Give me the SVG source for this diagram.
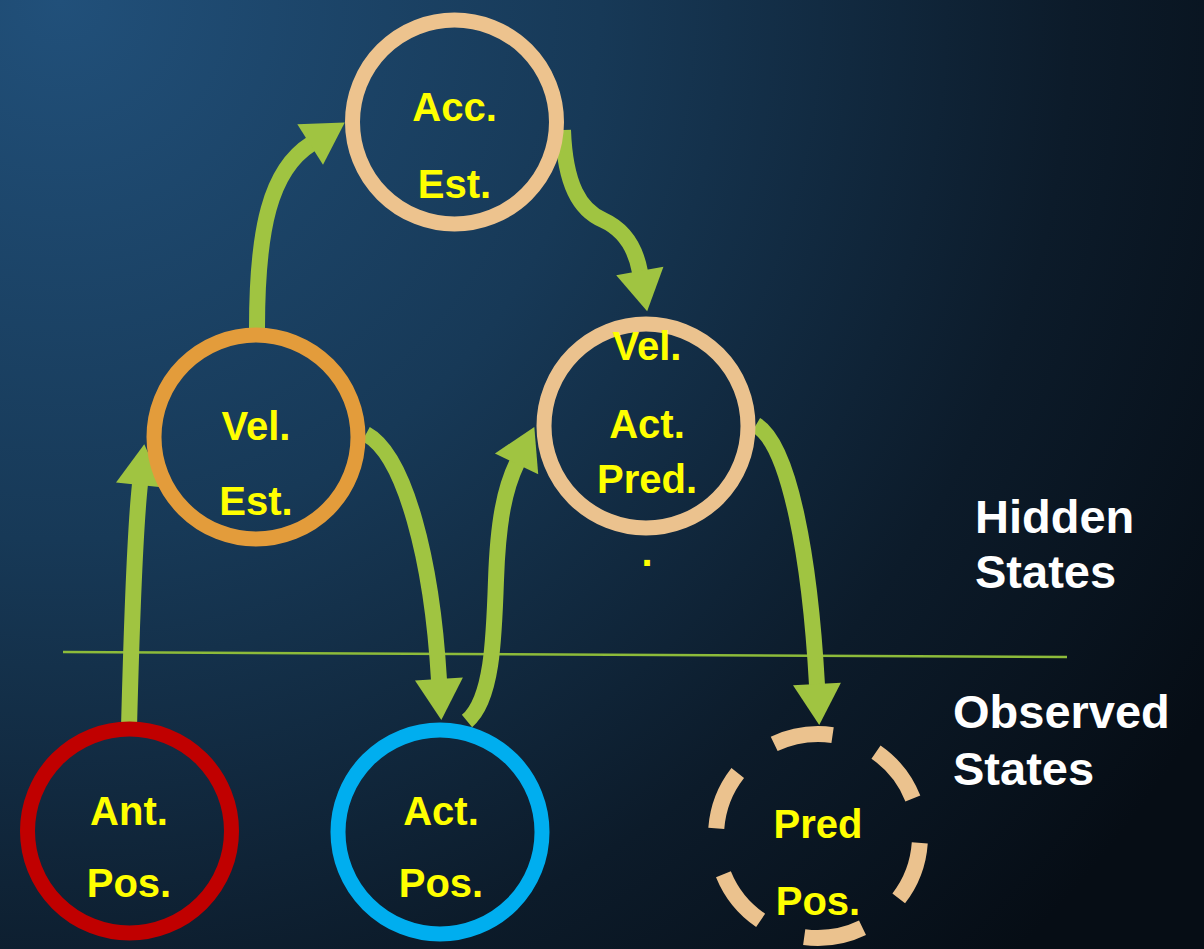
<svg xmlns="http://www.w3.org/2000/svg" width="1204" height="949" viewBox="0 0 1204 949">
  <defs>
    <radialGradient id="bg" gradientUnits="userSpaceOnUse" cx="60" cy="0" r="1350">
      <stop offset="0" stop-color="#21507A"/>
      <stop offset="0.4" stop-color="#173957"/>
      <stop offset="0.75" stop-color="#0C1B2A"/>
      <stop offset="1" stop-color="#060D15"/>
    </radialGradient>
    <marker id="head" markerUnits="userSpaceOnUse" markerWidth="50" markerHeight="50" viewBox="0 -25 50 50" refX="1" refY="0" orient="auto" overflow="visible">
      <path d="M0,-24 L41,0 L0,24 Z" fill="#A0C441"/>
    </marker>
    <style>
      .node { fill: none; stroke-width: 15; }
      .lbl { font-family: "Liberation Sans", Arial, sans-serif; font-weight: bold; font-size: 40px; fill: #FFFF00; text-anchor: middle; }
      .side { font-family: "Liberation Sans", Arial, sans-serif; font-weight: bold; font-size: 47px; fill: #FFFFFF; }
      .arrow { fill: none; stroke: #A0C441; stroke-width: 16; marker-end: url(#head); }
    </style>
  </defs>
  <rect x="0" y="0" width="1204" height="949" fill="url(#bg)"/>

  <line x1="63" y1="652" x2="1067" y2="657" stroke="#8DBB3A" stroke-width="2.5"/>

  <g id="connectors">
    <path class="arrow" d="M129,728 C131,650 134,540 140,484"/>
    <path class="arrow" d="M257,328 C257,230 270,170 311,144"/>
    <path class="arrow" d="M563,130 C565,185 580,210 603,220 C625,230 636,250 640,272"/>
    <path class="arrow" d="M366,434 C405,455 432,560 439,680"/>
    <path class="arrow" d="M467,721 C492,700 494,640 496,580 C498,520 505,488 517,463"/>
    <path class="arrow" d="M756,425 C790,445 810,560 817,685"/>
  </g>

  <g id="acc-est">
    <circle class="node" cx="454.5" cy="122" r="102" stroke="#EDC38E"/>
    <text class="lbl" x="454.5" y="121">Acc.</text>
    <text class="lbl" x="454.5" y="198">Est.</text>
  </g>

  <g id="vel-est">
    <circle class="node" cx="256" cy="437" r="102" stroke="#E39C3B"/>
    <text class="lbl" x="256" y="440">Vel.</text>
    <text class="lbl" x="256" y="515">Est.</text>
  </g>

  <g id="vel-act-pred">
    <circle class="node" cx="646" cy="426" r="102" stroke="#EBC28E"/>
    <text class="lbl" x="647" y="360">Vel.</text>
    <text class="lbl" x="647" y="438">Act.</text>
    <text class="lbl" x="647" y="493">Pred.</text>
    <text class="lbl" x="647" y="566">.</text>
  </g>

  <g id="ant-pos">
    <circle class="node" cx="129.5" cy="831" r="102" stroke="#C00000"/>
    <text class="lbl" x="129" y="825">Ant.</text>
    <text class="lbl" x="129" y="897">Pos.</text>
  </g>

  <g id="act-pos">
    <circle class="node" cx="440" cy="832" r="102" stroke="#00AEEF"/>
    <text class="lbl" x="441" y="825">Act.</text>
    <text class="lbl" x="441" y="897">Pos.</text>
  </g>

  <g id="pred-pos">
    <circle cx="818" cy="836" r="102" fill="none" stroke="#EBC28E" stroke-width="16" stroke-dasharray="60 46.9" stroke-dashoffset="-7"/>
    <text class="lbl" x="818" y="838">Pred</text>
    <text class="lbl" x="818" y="915">Pos.</text>
  </g>

  <g id="hidden-label">
    <text class="side" x="975" y="533">Hidden</text>
    <text class="side" x="975" y="588">States</text>
  </g>

  <g id="observed-label">
    <text class="side" x="953" y="728">Observed</text>
    <text class="side" x="953" y="785">States</text>
  </g>
</svg>
